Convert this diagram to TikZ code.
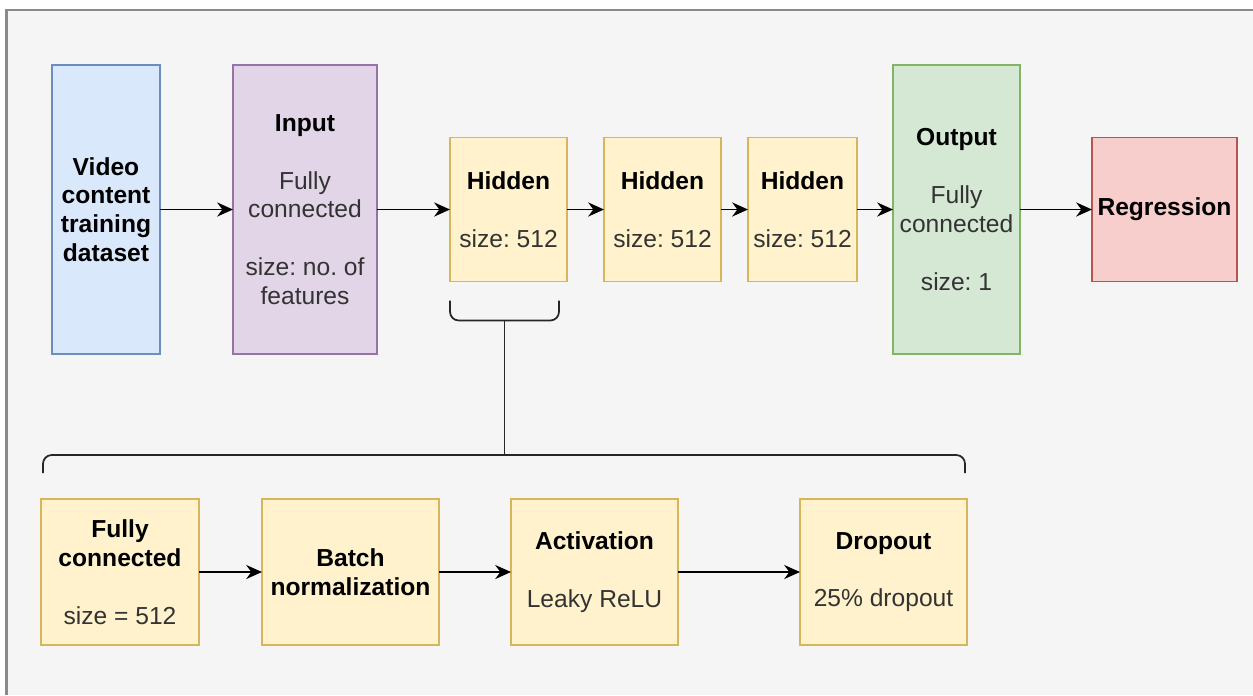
\documentclass[tikz,border=0pt]{standalone}
\usepackage{fontspec}
\setmainfont{Liberation Sans}
\usepackage{xcolor}
\usetikzlibrary{arrows.meta, positioning, calc}

\definecolor{blueFill}{HTML}{DAE8FC}
\definecolor{blueLine}{HTML}{6C8EBF}
\definecolor{purpleFill}{HTML}{E1D5E7}
\definecolor{purpleLine}{HTML}{9673A6}
\definecolor{yellowFill}{HTML}{FFF2CC}
\definecolor{yellowLine}{HTML}{D6B656}
\definecolor{greenFill}{HTML}{D5E8D4}
\definecolor{greenLine}{HTML}{82B366}
\definecolor{redFill}{HTML}{F8CECC}
\definecolor{redLine}{HTML}{B85450}
\definecolor{bgGray}{HTML}{F5F5F5}
\definecolor{frameGray}{HTML}{8A8A8A}

\newcommand{\labelfont}{\fontsize{14}{16.4}\selectfont\frenchspacing}

\begin{document}
\begin{tikzpicture}[
    box/.style={draw, line width=0.8pt, outer sep=0pt, align=center, inner sep=1pt, font=\labelfont, text=black!80},
    tallbox/.style={box, minimum height=5.78cm},
    smallbox/.style={box, minimum height=2.88cm},
    lowbox/.style={box, fill=yellowFill, draw=yellowLine, minimum height=2.92cm},
    arrow/.style={-{Stealth[length=9pt, width=8pt]}, line width=1.1pt},
    bracket/.style={line width=1pt, black!85, rounded corners=5pt}
]
    % Canvas
    \useasboundingbox (0,0) rectangle (25.06,-13.9);
    \fill[white] (0,0) rectangle (25.06,-13.9);
    \fill[bgGray] (0.13,-0.2) rectangle (25.06,-13.9);
    \draw[frameGray, line width=1.2pt] (0.13,-13.9) -- (0.13,-0.2) -- (25.06,-0.2);

    % Top row - network
    \node[tallbox, fill=blueFill, draw=blueLine, minimum width=2.16cm, font=\labelfont\bfseries, text=black] (video) at (2.12,-4.19) {Video\\content\\training\\dataset};
    \node[tallbox, fill=purpleFill, draw=purpleLine, minimum width=2.88cm, right=1.46cm of video] (input) {\textcolor{black}{\textbf{Input}}\\[16.4pt]Fully\\connected\\[16.4pt]size: no. of\\features};
    \node[smallbox, fill=yellowFill, draw=yellowLine, minimum width=2.34cm, right=1.46cm of input] (hidden1) {\textcolor{black}{\textbf{Hidden}}\\[16.4pt]size: 512};
    \node[smallbox, fill=yellowFill, draw=yellowLine, minimum width=2.34cm, right=0.74cm of hidden1] (hidden2) {\textcolor{black}{\textbf{Hidden}}\\[16.4pt]size: 512};
    \node[smallbox, fill=yellowFill, draw=yellowLine, minimum width=2.18cm, right=0.54cm of hidden2] (hidden3) {\textcolor{black}{\textbf{Hidden}}\\[16.4pt]size: 512};
    \node[tallbox, fill=greenFill, draw=greenLine, minimum width=2.54cm, right=0.72cm of hidden3] (output) {\textcolor{black}{\textbf{Output}}\\[16.4pt]Fully\\connected\\[16.4pt]size: 1};
    \node[smallbox, fill=redFill, draw=redLine, minimum width=2.9cm, right=1.44cm of output, font=\labelfont\bfseries, text=black] (regression) {Regression};

    % Bottom row - inside a hidden layer
    \node[lowbox, minimum width=3.16cm] (fc) at (2.4,-11.44) {\textcolor{black}{\textbf{Fully}}\\\textcolor{black}{\textbf{connected}}\\[16.4pt]size = 512};
    \node[lowbox, minimum width=3.54cm, right=1.26cm of fc, font=\labelfont\bfseries, text=black] (batchnorm) {Batch\\normalization};
    \node[lowbox, minimum width=3.34cm, right=1.44cm of batchnorm] (activation) {\textcolor{black}{\textbf{Activation}}\\[16.4pt]Leaky ReLU};
    \node[lowbox, minimum width=3.34cm, right=2.44cm of activation] (dropout) {\textcolor{black}{\textbf{Dropout}}\\[16.4pt]25\% dropout};

    % Arrows
    \draw[arrow] (video) -- (input);
    \draw[arrow] (input) -- (hidden1);
    \draw[arrow] (hidden1) -- (hidden2);
    \draw[arrow] (hidden2) -- (hidden3);
    \draw[arrow] (hidden3) -- (output);
    \draw[arrow] (output) -- (regression);
    \draw[arrow] (fc) -- (batchnorm);
    \draw[arrow] (batchnorm) -- (activation);
    \draw[arrow] (activation) -- (dropout);

    % Braces
    \coordinate (bl) at ($(hidden1.south west)+(0,-0.38)$);
    \coordinate (br) at ($(hidden1.south east)+(-0.16,-0.38)$);
    \coordinate (tipTop) at ($(bl)!0.5!(br)+(0,-0.4)$);
    \coordinate (gl) at ($(fc.north west)+(0.04,0.52)$);
    \coordinate (gr) at ($(dropout.north east)+(-0.04,0.52)$);
    \coordinate (tipBot) at ($(tipTop |- gl)+(0,0.36)$);
    \draw[bracket] (bl) |- (tipTop) -| (br);
    \draw[bracket] (gl) |- (tipBot) -| (gr);
    \draw[bracket] (tipTop) -- (tipBot);
\end{tikzpicture}
\end{document}
